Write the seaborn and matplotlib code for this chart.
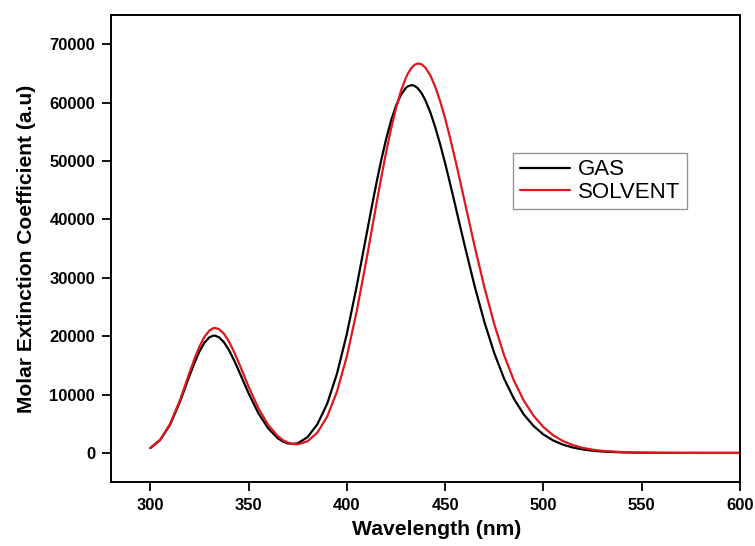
import matplotlib
matplotlib.use("Agg")
import matplotlib.pyplot as plt
import seaborn as sns
import pandas as pd

# values
wavelength = [300, 305, 310, 315, 320, 322.5, 325, 327.5, 330, 332, 333, 335,
              337.5, 340, 342.5, 345, 350, 355, 360, 365, 367.5, 370, 372.5,
              375, 380, 385, 390, 395, 400, 405, 410, 412.5, 415, 417.5, 420,
              422.5, 425, 427.5, 430, 431, 433, 434.5, 436, 438, 440, 442.5,
              445, 447.5, 450, 452.5, 455, 457.5, 460, 465, 470, 475, 480, 485,
              490, 495, 500, 505, 510, 515, 520, 525, 530, 540, 550, 560, 570,
              580, 590, 600]
gas = [826, 2199, 4790, 8670, 13256, 15455, 17372, 18852, 19781, 20086, 20072,
       19805, 18950, 17632, 15966, 14094, 10224, 6795, 4201, 2480, 1950, 1620,
       1560, 1640, 2700, 4893, 8421, 13580, 20364, 28512, 37384, 41826, 46122,
       50138, 53764, 56893, 59434, 61312, 62509, 62785, 63000, 62870, 62490,
       61632, 60373, 58318, 55774, 52842, 49638, 46191, 42645, 39039, 35469,
       28602, 22415, 17111, 12739, 9280, 6609, 4619, 3164, 2131, 1415, 924,
       595, 379, 238, 91, 34, 12, 4, 1, 0, 0]
solvent = [845, 2254, 4924, 8956, 13786, 16135, 18216, 19856, 20940, 21351,
           21400, 21192, 20396, 19093, 17398, 15462, 11368, 7654, 4772, 2837,
           2198, 1765, 1524, 1475, 1989, 3476, 6214, 10507, 16527, 24210, 33123,
           37823, 42541, 47150, 51519, 55518, 59036, 61947, 64219, 64925, 65987,
           66469, 66700, 66564, 65983, 64653, 62704, 60216, 57309, 54010, 50479,
           46769, 42981, 35444, 28361, 22078, 16748, 12406, 8978, 6372, 4428,
           3021, 2031, 1343, 874, 562, 356, 139, 52, 19, 7, 2, 1, 0]
series = ["GAS", "SOLVENT"]
colors = ["black", "#e0161d"]
x_ticks = [300, 350, 400, 450, 500, 550, 600]
y_ticks = [0, 10000, 20000, 30000, 40000, 50000, 60000, 70000]

df = pd.concat([
    pd.DataFrame({"Wavelength": wavelength, "Value": gas, "Series": series[0]}),
    pd.DataFrame({"Wavelength": wavelength, "Value": solvent, "Series": series[1]}),
])

sns.set_style("ticks")
plt.rcParams["font.family"] = ["Liberation Sans", "DejaVu Sans"]
plt.rcParams.update({"text.color": "black", "axes.labelcolor": "black",
                     "xtick.color": "black", "ytick.color": "black"})

fig = plt.figure(figsize=(7.55, 5.46), dpi=100)
ax = fig.add_axes([0.147, 0.117, 0.833, 0.8555])

sns.lineplot(data=df, x="Wavelength", y="Value", hue="Series",
             palette=dict(zip(series, colors)), linewidth=1.6, ax=ax)

ax.set_xlim(280, 600)
ax.set_ylim(-5000, 75000)
ax.set_xticks(x_ticks)
ax.set_yticks(y_ticks)
ax.set_xticklabels([str(t) for t in x_ticks], fontweight="bold", fontsize=12)
ax.set_yticklabels([str(t) for t in y_ticks], fontweight="bold", fontsize=12)
ax.tick_params(direction="out", length=6.5, width=1.3, pad=5,
               top=False, right=False)
for s in ax.spines.values():
    s.set_visible(True)
    s.set_linewidth(1.4)
    s.set_color("black")

# x label sits right at the bottom edge, kept just inside the figure
ax.set_xlabel("Wavelength (nm)", fontweight="bold", fontsize=15.2)
ax.set_ylabel("Molar Extinction Coefficient (a.u)", fontweight="bold",
              fontsize=15.1)
ax.xaxis.set_label_coords(0.517, -0.082)
ax.yaxis.set_label_coords(-0.119, 0.5)

leg = ax.legend(loc="upper left", bbox_to_anchor=(0.64, 0.705),
                borderaxespad=0, fontsize=16, frameon=True, fancybox=False,
                handlelength=2.25, handletextpad=0.35, labelspacing=0.05,
                borderpad=0.3, title=None)
leg.get_frame().set_edgecolor("#7a7a7a")
leg.get_frame().set_linewidth(1.0)
for line in leg.get_lines():
    line.set_linewidth(1.6)

fig.savefig("out.png", dpi=100)
